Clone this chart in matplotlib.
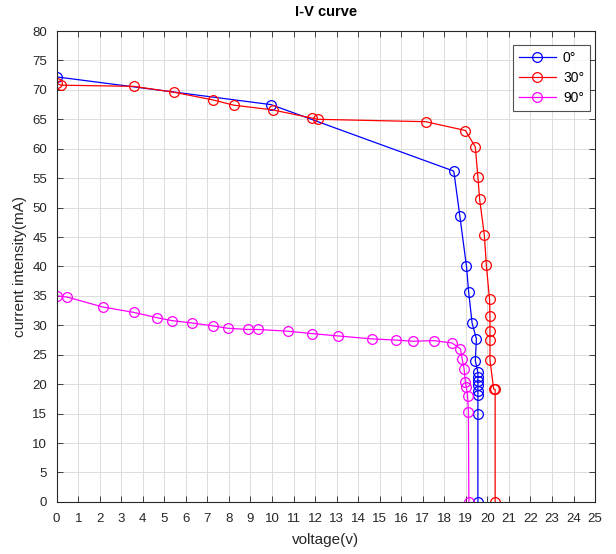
import matplotlib
matplotlib.use("Agg")
import matplotlib.pyplot as plt
import numpy as np

plt.rcParams['font.family'] = ['Liberation Sans', 'DejaVu Sans']

# 0 degrees
v0 = [0.02, 9.95, 18.44, 18.72, 19.03, 19.13, 19.29, 19.49, 19.44, 19.56, 19.56,
      19.56, 19.56, 19.56, 19.56, 19.56, 19.56]
i0 = [72.2, 67.5, 56.2, 48.6, 40.0, 35.7, 30.4, 27.7, 24.0, 22.0, 21.3,
      20.5, 19.8, 18.9, 18.2, 15.0, 0.0]

# 30 degrees
v30 = [0.02, 0.19, 3.58, 5.45, 7.25, 8.23, 10.03, 11.87, 12.13, 17.13, 18.98,
       19.44, 19.56, 19.64, 19.86, 19.95, 20.10, 20.12, 20.12, 20.12, 20.12,
       20.29, 20.36, 20.36]
i30 = [71.1, 70.8, 70.6, 69.6, 68.3, 67.4, 66.6, 65.2, 65.0, 64.6, 63.1,
       60.3, 55.2, 51.4, 45.3, 40.3, 34.4, 31.6, 29.0, 27.5, 24.1,
       19.2, 19.1, 0.0]

# 90 degrees
v90 = [0.02, 0.49, 2.16, 3.58, 4.66, 5.35, 6.28, 7.28, 7.95, 8.87, 9.33,
       10.74, 11.85, 13.06, 14.63, 15.74, 16.54, 17.51, 18.36, 18.75, 18.83,
       18.92, 18.98, 19.02, 19.08, 19.12, 19.14]
i90 = [35.0, 34.8, 33.1, 32.2, 31.3, 30.8, 30.4, 29.9, 29.5, 29.3, 29.3,
       29.0, 28.6, 28.2, 27.7, 27.5, 27.3, 27.4, 27.0, 26.0, 24.3,
       22.6, 20.3, 19.6, 18.0, 15.3, 0.0]

labels = ['0°', '30°', '90°']
colors = ['#0000ff', '#ff0000', '#ff00ff']

xticks = list(range(0, 26))
yticks = list(range(0, 81, 5))

fig = plt.figure(figsize=(6.16, 5.54), dpi=100)
ax = fig.add_axes([0.092, 0.094, 0.874, 0.850])

for v, i, lab, c in zip([v0, v30, v90], [i0, i30, i90], labels, colors):
    ax.plot(v, i, '-o', color=c, mfc='none', mec=c, ms=7, lw=0.9, mew=0.9, label=lab)

ax.set_xlim(0, 25)
ax.set_ylim(0, 80)
ax.set_xticks(xticks)
ax.set_yticks(yticks)
ax.tick_params(direction='in', top=True, right=True, labelsize=9.5,
               colors='#262626', length=4, width=0.6)
ax.tick_params(axis='x', pad=8)
ax.tick_params(axis='y', pad=7)
ax.grid(True, color='#dcdcdc', lw=0.7)
ax.set_axisbelow(True)
for s in ax.spines.values():
    s.set_color('#262626')
    s.set_linewidth(0.8)

ax.set_title('I-V curve', fontsize=10.5, fontweight='bold', pad=11)
ax.set_xlabel('voltage(v)', fontsize=11, color='#262626', labelpad=6)
ax.set_ylabel('current intensity(mA)', fontsize=11, color='#262626', labelpad=4)

leg = ax.legend(loc='upper right', fontsize=10, frameon=True, fancybox=False,
                edgecolor='#262626', handlelength=2.7, handletextpad=0.5,
                borderpad=0.4, labelspacing=0.45, borderaxespad=0,
                bbox_to_anchor=(0.99, 0.97))
leg.get_frame().set_linewidth(0.8)

fig.savefig('out.png', dpi=100)
